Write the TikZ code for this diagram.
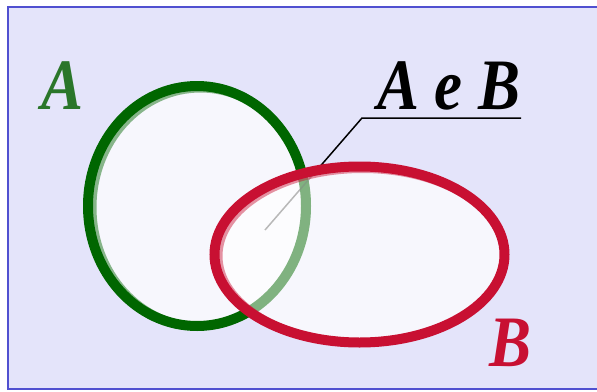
\documentclass[tikz,border=0pt]{standalone}
\usepackage{fontspec}
\setmainfont{Liberation Serif}
\definecolor{bgc}{RGB}{228,228,250}
\definecolor{framec}{RGB}{80,80,208}
\definecolor{greenA}{RGB}{0,102,0}
\definecolor{greenL}{RGB}{42,118,42}
\definecolor{redB}{RGB}{200,16,50}
\begin{document}
\begin{tikzpicture}[x=1pt,y=-1pt,
  setfill/.style={fill=white,fill opacity=0.72},
  ringA/.style={draw=greenA,line width=10pt},
  ringB/.style={draw=redB,line width=10pt},
  shade/.style={draw opacity=0.45},
  lbl/.style={font=\fontsize{63}{63}\selectfont\bfseries\itshape,inner sep=0pt,anchor=base west,yscale=1.15}]
\useasboundingbox (0,0) rectangle (597,391);
\fill[white] (0,0) rectangle (597,391);
\path[fill=bgc,draw=framec,line width=1.5pt] (8,7) rectangle (610,389);
% set A
\path[setfill] (197,206) ellipse [x radius=109,y radius=120];
\begin{scope}
  \clip (197,206) ellipse [x radius=109,y radius=120];
  \draw[ringA,shade] (200.5,207.5) ellipse [x radius=109,y radius=120];
\end{scope}
\draw[ringA] (197,206) ellipse [x radius=109,y radius=120];
% leader
\coordinate (u1) at (521,118);
\coordinate (u2) at (362,118);
\coordinate (tip) at (265,230);
\draw[black,line width=1.5pt] (u1) -- (u2) -- (tip);
% set B
\path[setfill] (359.5,254.5) ellipse [x radius=145,y radius=88];
\begin{scope}
  \clip (359.5,254.5) ellipse [x radius=145,y radius=88];
  \draw[ringA,draw opacity=0.3] (197,206) ellipse [x radius=109,y radius=120];
  \draw[ringB,shade] (362.5,256) ellipse [x radius=145,y radius=88];
\end{scope}
\draw[ringB] (359.5,254.5) ellipse [x radius=145,y radius=88];
% labels
\node[lbl,text=greenL] (la) at (41,109) {A};
\node[lbl,text=redB] (lb) at (489,366) {B};
\node[lbl,text=black] (lab) at (377,109) {A e B};
\end{tikzpicture}
\end{document}
